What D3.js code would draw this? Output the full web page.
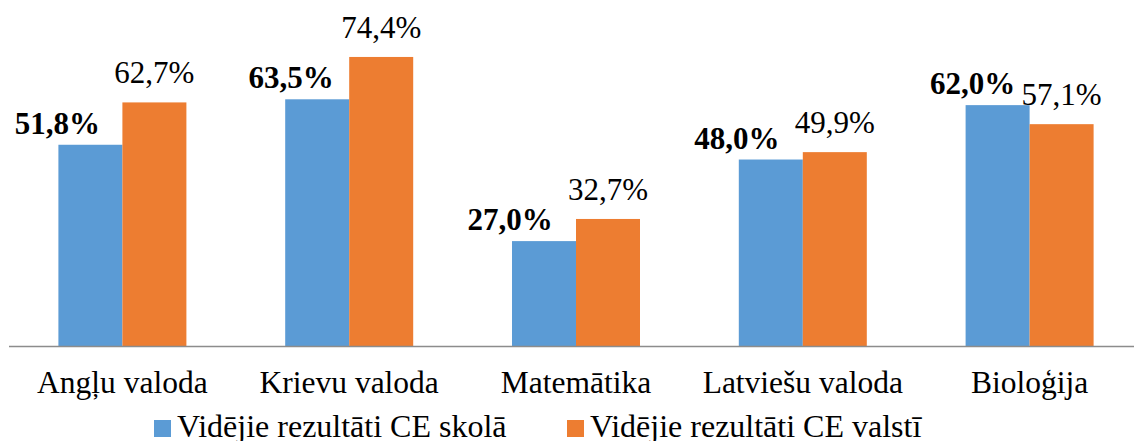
<!DOCTYPE html>
<html><head><meta charset="utf-8">
<script src="https://cdn.jsdelivr.net/npm/d3@7"></script>
<style>body{margin:0;background:#fff}</style>
</head><body>
<svg id="c" width="1134" height="441"></svg>
<script>
const categories = ["Angļu valoda","Krievu valoda","Matemātika","Latviešu valoda","Bioloģija"];
const seriesNames = ["Vidējie rezultāti CE skolā","Vidējie rezultāti CE valstī"];
const school = [51.8, 63.5, 27.0, 48.0, 62.0];
const country = [62.7, 74.4, 32.7, 49.9, 57.1];
const colors = ["#5B9BD5","#ED7D31"];
// manual label x-shifts for school labels (layout only)
const schoolLabelDx = [-33, -26, -34, -34, -25];

const FONT = "'Liberation Serif'";
const svg = d3.select("#c");
const baseY = 346;
const x = d3.scaleBand().domain(categories).range([9, 1143]).paddingInner(0).paddingOuter(0);
const y = d3.scaleLinear().domain([0, 100]).range([baseY, baseY - 388.5]);
const barW = 64;
const fmt = v => v.toFixed(1).replace(".", ",") + "%";

const series = [school, country];
series.forEach((vals, s) => {
  svg.append("g").selectAll("rect").data(vals).join("rect")
    .attr("x", (d, i) => x(categories[i]) + x.bandwidth()/2 - barW + s*barW)
    .attr("width", barW)
    .attr("y", d => y(d))
    .attr("height", d => baseY - y(d))
    .attr("fill", colors[s]);
});

// axis line
svg.append("line").attr("x1", 9).attr("x2", 1134).attr("y1", baseY + 0.5).attr("y2", baseY + 0.5)
  .attr("stroke", "#8c8c8c").attr("stroke-width", 1.5);

// school labels (bold)
svg.selectAll("text.s").data(school).join("text").attr("class", "s")
  .attr("x", (d, i) => x(categories[i]) + x.bandwidth()/2 - barW/2 + schoolLabelDx[i])
  .attr("y", d => y(d) - 11)
  .attr("text-anchor", "middle")
  .style("font-family", FONT).attr("font-size", 31).attr("font-weight", "bold")
  .text(fmt);

// country labels
svg.selectAll("text.c").data(country).join("text").attr("class", "c")
  .attr("x", (d, i) => x(categories[i]) + x.bandwidth()/2 + barW/2)
  .attr("y", d => y(d) - 19)
  .attr("text-anchor", "middle")
  .style("font-family", FONT).attr("font-size", 31)
  .text(fmt);

// category labels
svg.selectAll("text.cat").data(categories).join("text").attr("class", "cat")
  .attr("x", d => x(d) + x.bandwidth()/2)
  .attr("y", 393)
  .attr("text-anchor", "middle")
  .style("font-family", FONT).attr("font-size", 31.5)
  .text(d => d);

// legend
const legendX = [154, 567];
svg.selectAll("rect.lg").data(seriesNames).join("rect").attr("class", "lg")
  .attr("x", (d, i) => legendX[i]).attr("y", 420).attr("width", 17).attr("height", 17)
  .attr("fill", (d, i) => colors[i]);
svg.selectAll("text.lg").data(seriesNames).join("text").attr("class", "lg")
  .attr("x", (d, i) => legendX[i] + 23).attr("y", 437)
  .style("font-family", FONT).attr("font-size", 32).text(d => d);
</script>
</body></html>
